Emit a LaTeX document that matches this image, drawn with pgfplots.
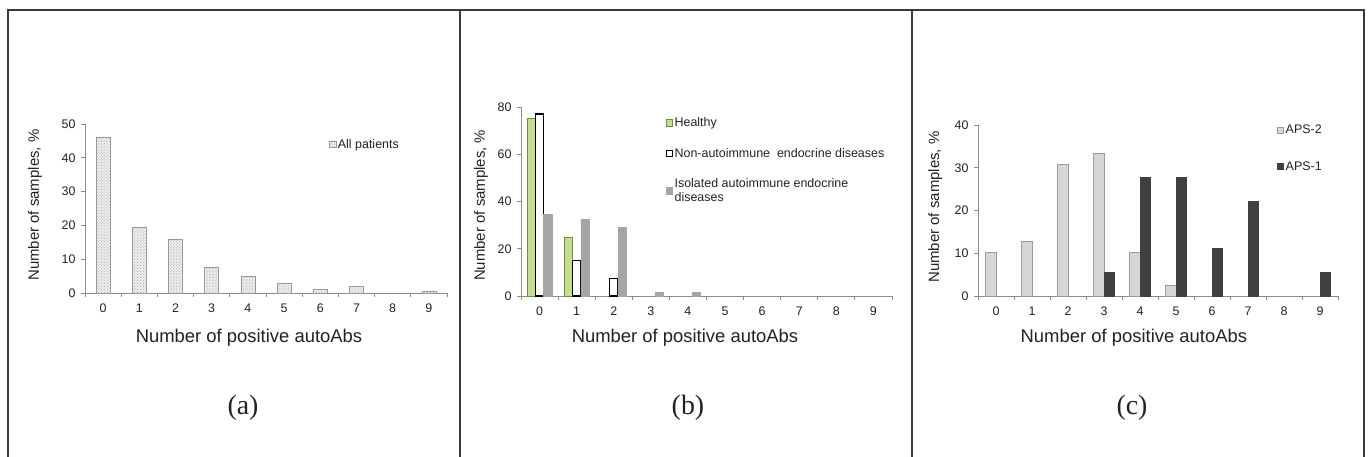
\documentclass[border=0pt]{standalone}
\usepackage{fontspec}
\setmainfont{Liberation Sans}
\newfontfamily\seriffont{Liberation Serif}
\usepackage{pgfplots}
\pgfplotsset{compat=1.18}
\usetikzlibrary{patterns}
\definecolor{axisgray}{HTML}{8C8C8C}
\definecolor{framegray}{HTML}{3A3A3A}
\definecolor{hgreen}{HTML}{C4DE8E}
\definecolor{hgreenedge}{HTML}{6E8F3A}
\definecolor{isogray}{HTML}{A5A5A5}
\definecolor{aps2}{HTML}{D6D6D6}
\definecolor{aps2edge}{HTML}{9A9A9A}
\definecolor{aps1}{HTML}{404040}
\definecolor{txt}{HTML}{222222}
\pgfplotsset{
  sqlegend/.style={legend image code/.code={\draw[##1, line width=0.8bp] (0bp,-3.3bp) rectangle (6.6bp,3.3bp);}},
  panel/.style={
    scale only axis,
    anchor=south west,
    xmin=-0.5, xmax=9.5, ymin=0,
    axis x line*=bottom, axis y line*=left,
    axis line style={axisgray, line width=0.9bp},
    xtick={0,...,9},
    minor xtick={-0.5,0.5,...,9.5},
    major x tick style={draw=none},
    minor tick length=4bp,
    major tick length=4bp,
    tick align=outside,
    tick style={axisgray, line width=0.9bp},
    ticklabel style={font=\fontsize{12.5}{14}\selectfont, text=txt},
    /pgf/number format/assume math mode=true,
    xticklabel style={yshift=-3bp},
    yticklabel style={xshift=-2bp},
    xlabel={Number of positive autoAbs},
    ylabel={Number of samples, \%},
    xlabel style={font=\fontsize{18.5}{22}\selectfont, text=txt, anchor=center},
    ylabel style={font=\fontsize{15}{18}\selectfont, text=txt, anchor=center, rotate=0},
    legend style={draw=none, fill=none, inner sep=0pt, outer sep=0pt,
      font=\fontsize{12.5}{14}\selectfont, text=txt,
      cells={anchor=west, align=left},
      nodes={inner xsep=1.5bp}},
    clip=false,
  }
}
\begin{document}
\begin{tikzpicture}
\useasboundingbox (0,0) rectangle (1368bp,457bp);
% frame
\draw[framegray, line width=2bp] (8bp,0bp) -- (8bp,447bp) -- (1364bp,447bp) -- (1364bp,0bp);
\draw[framegray, line width=2bp] (460bp,0bp) -- (460bp,447bp);
\draw[framegray, line width=2bp] (912bp,0bp) -- (912bp,447bp);

% panel (a)
\begin{axis}[panel,
  at={(85bp,164bp)}, width=362bp, height=169bp,
  ymax=50, ytick={0,10,...,50},
  xlabel style={at={(axis description cs:0.453,-0.266)}},
  ylabel style={at={(axis description cs:-0.138,0.52)}},
  ybar, bar width=14bp, sqlegend,
  legend style={at={(0.674,0.88)}, anchor=west},
]
\addplot[draw=gray!80, line width=0.6bp, fill=gray!12,
  postaction={pattern=crosshatch dots, pattern color=gray!75}]
  coordinates {(0,46) (1,19.5) (2,16) (3,7.5) (4,5) (5,3) (6,1) (7,2) (9,0.5)};
\addlegendentry{All patients}
\end{axis}

% panel (b)
\begin{axis}[panel,
  at={(521bp,161bp)}, width=371bp, height=189bp,
  ymax=80, ytick={0,20,...,80},
  xlabel style={at={(axis description cs:0.442,-0.222)}},
  ylabel style={at={(axis description cs:-0.108,0.48)}},
  ybar=0pt, bar width=8.3bp, sqlegend,
  legend style={at={(0.39,0.955)}, anchor=north west, row sep=16bp},
]
\addplot[draw=hgreenedge, line width=0.7bp, fill=hgreen]
  coordinates {(0,75) (1,25)};
\addlegendentry{Healthy}
\addplot[draw=black, line width=1.3bp, fill=white!93!blue!2]
  coordinates {(0,77) (1,15) (2,7.5)};
\addlegendentry{Non-autoimmune\ \ endocrine diseases}
\addplot[draw=isogray, line width=0.5bp, fill=isogray]
  coordinates {(0,34.5) (1,32.5) (2,29) (3,1.5) (4,1.5)};
\addlegendentry{Isolated autoimmune endocrine\\diseases}
\end{axis}

% panel (c)
\begin{axis}[panel,
  at={(978bp,161bp)}, width=360bp, height=171bp,
  ymax=40, ytick={0,10,...,40},
  xlabel style={at={(axis description cs:0.433,-0.246)}},
  ylabel style={at={(axis description cs:-0.119,0.52)}},
  ybar=0pt, bar width=10.7bp, sqlegend,
  legend style={at={(0.83,0.863)}, anchor=west, row sep=22bp},
]
\addplot[draw=aps2edge, line width=0.7bp, fill=aps2]
  coordinates {(0,10.2) (1,12.8) (2,30.8) (3,33.3) (4,10.2) (5,2.6)};
\addlegendentry{APS-2}
\addplot[draw=aps1, line width=0.5bp, fill=aps1]
  coordinates {(3,5.6) (4,27.8) (5,27.8) (6,11.1) (7,22.2) (9,5.6)};
\addlegendentry{APS-1}
\end{axis}

% panel letters
\node[font=\seriffont\fontsize{28}{30}\selectfont, text=txt] at (243bp,49bp) {(a)};
\node[font=\seriffont\fontsize{28}{30}\selectfont, text=txt] at (688bp,49bp) {(b)};
\node[font=\seriffont\fontsize{28}{30}\selectfont, text=txt] at (1132bp,49bp) {(c)};
\end{tikzpicture}
\end{document}
